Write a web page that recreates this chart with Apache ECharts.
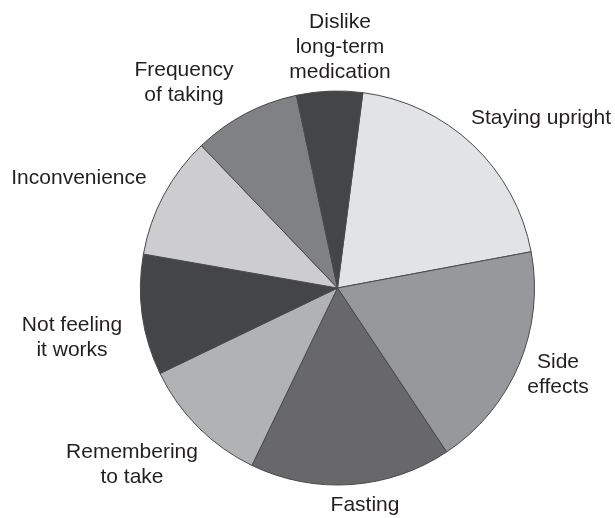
<!DOCTYPE html>
<html>
<head>
<meta charset="utf-8">
<title>Pie chart</title>
<script src="https://cdn.jsdelivr.net/npm/echarts@6/dist/echarts.min.js"></script>
<style>
    html, body {
        margin: 0;
        padding: 0;
        background: #ffffff;
    }
    #chart {
        width: 615px;
        height: 518px;
    }
</style>
</head>
<body>
<div id="chart"></div>
<script>
// slices, clockwise from the top
const categories = [
    'Staying upright',
    'Side\neffects',
    'Fasting',
    'Remembering\nto take',
    'Not feeling\nit works',
    'Inconvenience',
    'Frequency\nof taking',
    'Dislike\nlong-term\nmedication'
];
const shares = [20.0, 18.6, 16.5, 10.7, 9.9, 10.1, 8.8, 5.4];

// styling
const sliceColors = ['#e2e3e5', '#97989b', '#68686a', '#b1b2b4', '#444547', '#cdcdcf', '#808184', '#444547'];
// label centres (pixels)
const labelAt = [
    [541, 118],
    [558, 375],
    [365, 505],
    [132, 465],
    [72, 338],
    [79, 178],
    [184, 83],
    [340, 47]
];

const chart = echarts.init(document.getElementById('chart'));

const option = {
    animation: false,
    backgroundColor: '#ffffff',
    series: [{
        type: 'pie',
        center: [337.5, 288],
        radius: 197,
        startAngle: 82.6,
        clockwise: true,
        avoidLabelOverlap: false,
        silent: true,
        itemStyle: {
            borderColor: '#4a4a4c',
            borderWidth: 1
        },
        label: {
            show: true,
            position: 'outside',
            fontFamily: 'Liberation Sans, Arial, sans-serif',
            fontSize: 21,
            lineHeight: 25,
            color: '#231f20',
            align: 'center'
        },
        labelLine: { show: false },
        labelLayout: function (params) {
            const p = labelAt[params.dataIndex];
            return { x: p[0], y: p[1], align: 'center', verticalAlign: 'middle' };
        },
        data: categories.map(function (name, i) {
            return {
                name: name,
                value: shares[i],
                itemStyle: { color: sliceColors[i] }
            };
        })
    }]
};

chart.setOption(option);
</script>
</body>
</html>
